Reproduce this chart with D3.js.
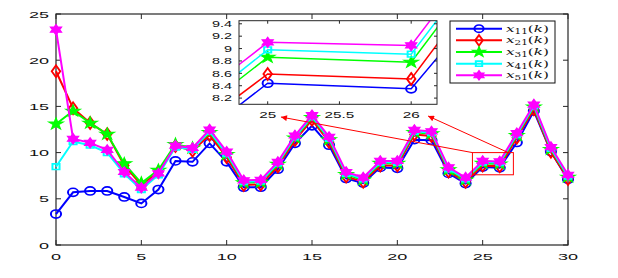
<!DOCTYPE html>
<html><head><meta charset="utf-8">
<script src="https://cdn.jsdelivr.net/npm/d3@7"></script>
<style>body{margin:0;background:#fff}svg{display:block}</style>
</head><body>
<svg id="c" width="618" height="278"></svg>
<script>
const k = d3.range(0, 31);
const x11 = [3.35,5.7,5.85,5.85,5.2,4.5,6.0,9.1,9.0,11.0,9.0,6.25,6.25,8.2,11.0,12.9,10.8,7.2,6.7,8.4,8.3,11.4,11.35,7.75,6.65,8.44,8.35,11.1,14.5,10.1,7.1];
const x21 = [18.8,14.8,13.2,12.0,8.6,6.5,7.9,10.7,10.2,11.9,9.5,6.5,6.55,8.5,11.35,13.55,11.15,7.4,6.85,8.6,8.6,11.95,11.8,7.95,6.85,8.59,8.51,11.6,14.7,10.1,7.15];
const x31 = [13.1,14.5,13.2,12.0,8.8,6.7,8.1,10.9,10.5,12.2,9.8,6.75,6.8,8.75,11.6,13.8,11.4,7.65,7.05,8.85,8.85,12.2,12.05,8.15,7.05,8.86,8.78,11.85,14.95,10.35,7.35];
const x41 = [8.47,11.2,10.8,10.0,7.7,6.0,7.6,10.6,10.35,12.3,9.9,6.85,6.9,8.85,11.7,13.9,11.55,7.75,7.15,8.95,8.95,12.3,12.15,8.25,7.15,8.98,8.91,11.95,15.05,10.45,7.45];
const x51 = [23.3,11.5,11.05,10.3,7.9,6.2,7.75,10.75,10.5,12.5,10.1,7.0,7.05,9.0,11.85,14.05,11.7,7.9,7.3,9.1,9.1,12.45,12.3,8.4,7.3,9.10,9.05,12.1,15.2,10.6,7.6];
const seriesNames = ["11","21","31","41","51"];
const seriesColors = ["#0000ff","#ff0000","#00ff00","#00ffff","#ff00ff"];
const seriesMarkers = ["circle","diamond","star","square","hexagram"];
const xTicks = [0,5,10,15,20,25,30];
const yTicks = [0,5,10,15,20,25];
const insetXTicks = [25,25.5,26];
const insetYTicks = [8.2,8.4,8.6,8.8,9,9.2,9.4];
const zoomBox = [24.4, 26.8, 7.6, 10.0];        // x0,x1,y0,y1 in data units
const arrowFrom = [[24.4,10.0],[26.5,10.0]];
const arrowTo = [[13.18,13.85],[21.8,13.96]];

const series = [x11,x21,x31,x41,x51].map((v,i)=>({name:seriesNames[i],color:seriesColors[i],marker:seriesMarkers[i],values:v}));

const svg = d3.select("#c");
const x = d3.scaleLinear([0,30],[56,568]);
const y = d3.scaleLinear([0,25],[245,14]);
const xi = d3.scaleLinear([24.8,26.18],[239,437]);
const yi = d3.scaleLinear([8.1,9.45],[104.3,20.7]);

const hexPath = (r)=>{
  const t=(a)=>[r*Math.sin(a),-r*Math.cos(a)];
  const tri=(o)=>[0,1,2].map(i=>t(o+i*2*Math.PI/3));
  const p1=tri(0), p2=tri(Math.PI);
  const f=(p)=>"M"+p.map(q=>q[0].toFixed(2)+","+q[1].toFixed(2)).join("L")+"Z";
  return f(p1)+f(p2);
};
function markerPath(type, s){
  s = s||1;
  if(type==="circle") return d3.symbol(d3.symbolCircle, 52*s*s)();
  if(type==="diamond") return d3.symbol(d3.symbolDiamond, 40*s*s)();
  if(type==="star") return d3.symbol(d3.symbolStar, 42*s*s)();
  if(type==="square") return d3.symbol(d3.symbolSquare, 32*s*s)();
  return hexPath(5.2*s);
}
function drawMarker(g, type, color, cx, cy, s){
  const filled = type==="star"||type==="hexagram";
  g.append("path").attr("d", markerPath(type,s))
    .attr("transform",`translate(${cx},${cy}) scale(1.25,1)`)
    .attr("fill", filled?color:"none")
    .attr("stroke", color).attr("stroke-width", filled?1:1.6);
}

// defs
const defs = svg.append("defs");
defs.append("marker").attr("id","ah").attr("viewBox","0 0 10 10").attr("refX",10).attr("refY",5)
  .attr("markerWidth",11).attr("markerHeight",6).attr("markerUnits","userSpaceOnUse").attr("orient","auto")
  .append("path").attr("d","M0,0L10,5L0,10Z").attr("fill","#ff0000");
defs.append("clipPath").attr("id","insclip").append("rect")
  .attr("x",xi.range()[0]).attr("y",yi.range()[1]).attr("width",xi.range()[1]-xi.range()[0]).attr("height",yi.range()[0]-yi.range()[1]);

const axisColor = "#262626";
const tickFont = "'Liberation Sans', Arial, sans-serif";

// main axes box
const box = svg.append("g");
box.append("rect").attr("x",x(0)).attr("y",y(25)).attr("width",x(30)-x(0)).attr("height",y(0)-y(25))
  .attr("fill","none").attr("stroke",axisColor).attr("stroke-width",1.2);
xTicks.forEach(t=>{
  box.append("line").attr("x1",x(t)).attr("x2",x(t)).attr("y1",y(0)).attr("y2",y(0)-5).attr("stroke",axisColor);
  box.append("line").attr("x1",x(t)).attr("x2",x(t)).attr("y1",y(25)).attr("y2",y(25)+5).attr("stroke",axisColor);
  box.append("text").attr("transform",`translate(${x(t)},${y(0)+15}) scale(1.9,1)`)
    .attr("text-anchor","middle").attr("font-family",tickFont).attr("font-size",9.5).attr("fill","#111").text(t);
});
yTicks.forEach(t=>{
  box.append("line").attr("x1",x(0)).attr("x2",x(0)+5).attr("y1",y(t)).attr("y2",y(t)).attr("stroke",axisColor);
  box.append("line").attr("x1",x(30)).attr("x2",x(30)-5).attr("y1",y(t)).attr("y2",y(t)).attr("stroke",axisColor);
  box.append("text").attr("transform",`translate(${x(0)-7},${y(t)+3.5}) scale(1.9,1)`)
    .attr("text-anchor","end").attr("font-family",tickFont).attr("font-size",9.5).attr("fill","#111").text(t);
});

// main series (markers not clipped, as in the original)
const plot = svg.append("g");
const line = d3.line().x((d,i)=>x(k[i])).y(d=>y(d));
series.forEach(s=>{
  plot.append("path").attr("d",line(s.values)).attr("fill","none").attr("stroke",s.color).attr("stroke-width",2);
  s.values.forEach((v,i)=>drawMarker(plot, s.marker, s.color, x(k[i]), y(v), 1));
});

// zoom box & arrows
svg.append("rect").attr("x",x(zoomBox[0])).attr("y",y(zoomBox[3]))
  .attr("width",x(zoomBox[1])-x(zoomBox[0])).attr("height",y(zoomBox[2])-y(zoomBox[3]))
  .attr("fill","none").attr("stroke","#ff0000").attr("stroke-width",1);
arrowFrom.forEach((f,i)=>{
  svg.append("line").attr("x1",x(f[0])).attr("y1",y(f[1])).attr("x2",x(arrowTo[i][0])).attr("y2",y(arrowTo[i][1]))
    .attr("stroke","#ff0000").attr("stroke-width",1).attr("marker-end","url(#ah)");
});

// inset
const ins = svg.append("g");
ins.append("rect").attr("x",xi.range()[0]).attr("y",yi.range()[1]).attr("width",xi.range()[1]-xi.range()[0])
  .attr("height",yi.range()[0]-yi.range()[1]).attr("fill","#fff");
const ip = ins.append("g").attr("clip-path","url(#insclip)");
const iline = d3.line().x((d,i)=>xi(k[i])).y(d=>yi(d));
series.forEach(s=>{
  ip.append("path").attr("d",iline(s.values)).attr("fill","none").attr("stroke",s.color).attr("stroke-width",1.5);
  s.values.forEach((v,i)=>{ if(k[i]>=25&&k[i]<=26) drawMarker(ip, s.marker, s.color, xi(k[i]), yi(v), 1); });
});
ins.append("rect").attr("x",xi.range()[0]).attr("y",yi.range()[1]).attr("width",xi.range()[1]-xi.range()[0])
  .attr("height",yi.range()[0]-yi.range()[1]).attr("fill","none").attr("stroke",axisColor).attr("stroke-width",1);
insetXTicks.forEach(t=>{
  ins.append("line").attr("x1",xi(t)).attr("x2",xi(t)).attr("y1",yi.range()[0]).attr("y2",yi.range()[0]-3).attr("stroke",axisColor);
  ins.append("line").attr("x1",xi(t)).attr("x2",xi(t)).attr("y1",yi.range()[1]).attr("y2",yi.range()[1]+3).attr("stroke",axisColor);
  ins.append("text").attr("transform",`translate(${xi(t)},${yi.range()[0]+14}) scale(1.7,1)`)
    .attr("text-anchor","middle").attr("font-family",tickFont).attr("font-size",9).attr("fill","#111").text(t);
});
insetYTicks.forEach(t=>{
  ins.append("line").attr("x1",xi.range()[0]).attr("x2",xi.range()[0]+3).attr("y1",yi(t)).attr("y2",yi(t)).attr("stroke",axisColor);
  ins.append("line").attr("x1",xi.range()[1]).attr("x2",xi.range()[1]-3).attr("y1",yi(t)).attr("y2",yi(t)).attr("stroke",axisColor);
  ins.append("text").attr("transform",`translate(${xi.range()[0]-7},${yi(t)+3.3}) scale(1.6,1)`)
    .attr("text-anchor","end").attr("font-family",tickFont).attr("font-size",9).attr("fill","#111").text(t);
});

// legend
const lg = svg.append("g");
lg.append("rect").attr("x",450).attr("y",21).attr("width",105).attr("height",62)
  .attr("fill","#fff").attr("stroke","#111").attr("stroke-width",1);
series.forEach((s,i)=>{
  const ly = 28.7 + i*11.65;
  lg.append("line").attr("x1",456).attr("x2",502).attr("y1",ly).attr("y2",ly).attr("stroke",s.color).attr("stroke-width",2);
  drawMarker(lg, s.marker, s.color, 479, ly, 0.9);
  const t = lg.append("text").attr("transform",`translate(506,${ly+3}) scale(1.6,1)`)
    .attr("font-family","'DejaVu Serif','Liberation Serif',serif").attr("font-size",9.5).attr("fill","#111");
  t.append("tspan").attr("font-style","italic").text("x");
  t.append("tspan").attr("font-size",6.5).attr("dy",2).text(s.name);
  t.append("tspan").attr("dy",-2).text("(");
  t.append("tspan").attr("font-style","italic").text("k");
  t.append("tspan").text(")");
});
</script>
</body></html>
